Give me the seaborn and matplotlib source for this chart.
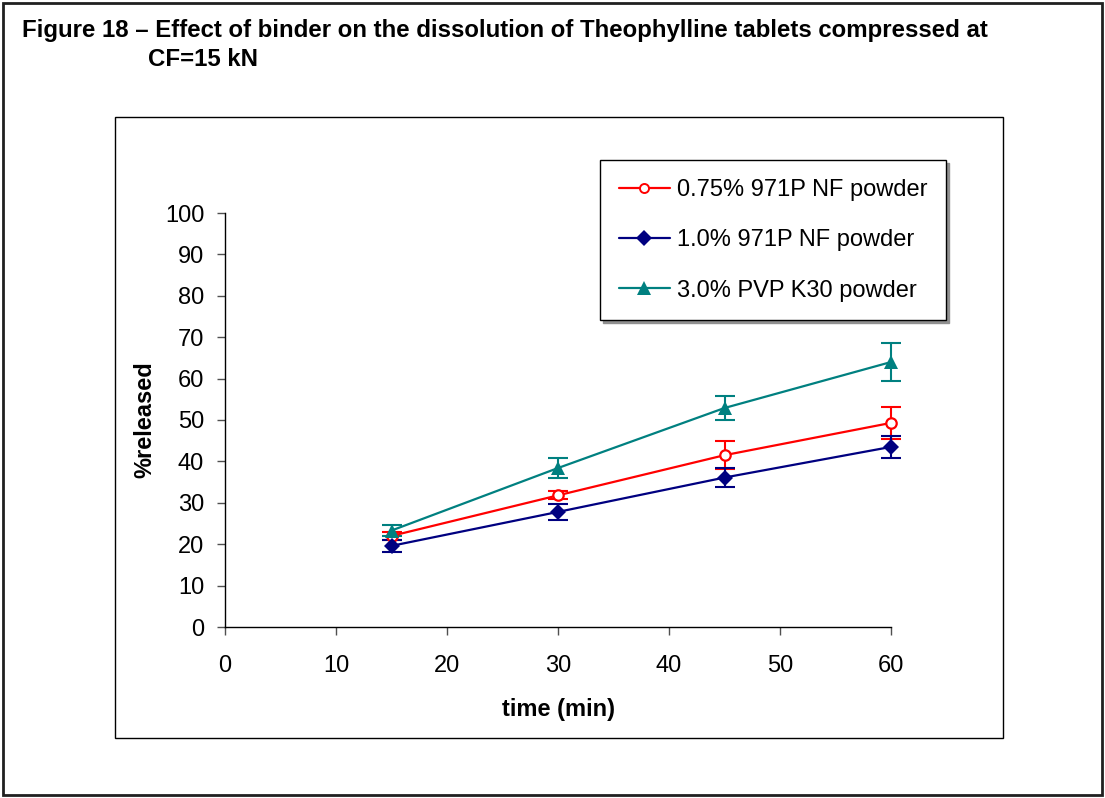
import numpy as np
import pandas as pd
import matplotlib
matplotlib.use("Agg")
import matplotlib.pyplot as plt
from matplotlib.patches import Rectangle
import seaborn as sns

# Dissolution data (time in minutes, % released, standard deviation)
time_min = [15, 30, 45, 60]
series_names = ["0.75% 971P NF powder", "1.0% 971P NF powder", "3.0% PVP K30 powder"]
released_075 = [22.0, 31.8, 41.5, 49.3]
released_100 = [19.6, 27.8, 36.1, 43.5]
released_pvp = [23.3, 38.4, 52.9, 64.0]
sd_075 = [1.0, 1.0, 3.4, 3.9]
sd_100 = [1.5, 2.0, 2.3, 2.7]
sd_pvp = [1.3, 2.4, 2.8, 4.5]

colors = ["#FF0000", "#000080", "#008080"]
markers = ["o", "D", "^"]
marker_sizes = {"o": 7.5, "D": 8.5, "^": 10.5}

rows = []
for name, vals, sds in zip(series_names, [released_075, released_100, released_pvp],
                           [sd_075, sd_100, sd_pvp]):
    for t, v, s in zip(time_min, vals, sds):
        rows.append({"time": t, "released": v, "sd": s, "formulation": name})
df = pd.DataFrame(rows)

sns.set_style("white")
plt.rcParams["font.family"] = ["Liberation Sans", "DejaVu Sans"]
plt.rcParams["text.color"] = "black"
plt.rcParams["axes.labelcolor"] = "black"

FS = 17
W, H = 1105, 798
fig = plt.figure(figsize=(W / 100, H / 100), dpi=100)
ax = fig.add_axes([225 / W, 1 - 627 / H, 666 / W, 414 / H])

# Error bars first so the markers sit on top
for name, col in zip(series_names, colors):
    sub = df[df["formulation"] == name]
    ax.errorbar(sub["time"], sub["released"], yerr=sub["sd"], fmt="none",
                ecolor=col, elinewidth=1.5, capsize=7.5, capthick=1.5, zorder=2,
                clip_on=False)

sns.lineplot(data=df, x="time", y="released", hue="formulation", style="formulation",
             hue_order=series_names, style_order=series_names,
             palette=colors, markers=markers, dashes=False, linewidth=1.6,
             ax=ax, legend=False, zorder=3)

for line in ax.get_lines():
    mk = line.get_marker()
    line.set_clip_on(False)
    if mk in marker_sizes:
        line.set_markersize(marker_sizes[mk])
    if mk == "o":
        line.set_markerfacecolor("white")
        line.set_markeredgecolor(colors[0])
        line.set_markeredgewidth(1.6)
    elif mk in ("D", "^"):
        line.set_markeredgewidth(0)

ax.set_xlim(0, 60)
ax.set_ylim(0, 100)
ax.set_xticks(range(0, 61, 10))
ax.set_yticks(range(0, 101, 10))
ax.tick_params(axis="both", direction="out", length=6, width=1, color="#505050",
               labelcolor="black", labelsize=FS, left=True, bottom=True)
ax.tick_params(axis="x", pad=14)
ax.tick_params(axis="y", pad=9)
for side in ["top", "right"]:
    ax.spines[side].set_visible(False)
for side in ["left", "bottom"]:
    ax.spines[side].set_color("black")
    ax.spines[side].set_linewidth(1)

ax.set_xlabel("time (min)", fontsize=FS, fontweight="bold", labelpad=15)
ax.set_ylabel("%released", fontsize=FS, fontweight="bold", labelpad=6)

# Legend with marker drawn mid-line
handles = []
for name, col, mk in zip(series_names, colors, markers):
    h, = ax.plot([], [], color=col, marker=mk, linewidth=1.6,
                 markersize={"o": 6.5, "D": 8, "^": 9.5}[mk],
                 markerfacecolor="white" if mk == "o" else col,
                 markeredgecolor=col, markeredgewidth=1.4 if mk == "o" else 0)
    handles.append(h)
leg = fig.legend(handles, series_names, loc="upper left",
                 bbox_to_anchor=(600 / W, 1 - 160 / H), bbox_transform=fig.transFigure,
                 frameon=True, fancybox=False, fontsize=FS, handlelength=2.15,
                 handletextpad=0.3, labelspacing=1.2, borderpad=0.8, borderaxespad=0,
                 shadow={"color": "#909090", "alpha": 1.0})
leg.get_frame().set_edgecolor("black")
leg.get_frame().set_linewidth(1)

# Chart area frame and outer page frame
fig.patches.append(Rectangle((115 / W, 1 - 738 / H), (1003 - 115) / W, (738 - 117) / H,
                             transform=fig.transFigure, fill=False, edgecolor="black",
                             linewidth=1, zorder=0))
fig.patches.append(Rectangle((3 / W, 3 / H), (W - 6) / W, (H - 6) / H,
                             transform=fig.transFigure, fill=False, edgecolor="#202020",
                             linewidth=2, zorder=0))

fig.text(22 / W, 1 - 30 / H,
         "Figure 18 \u2013 Effect of binder on the dissolution of Theophylline tablets compressed at",
         fontsize=17.3, fontweight="bold", va="center", ha="left")
fig.text(148 / W, 1 - 59 / H, "CF=15 kN", fontsize=17.3, fontweight="bold",
         va="center", ha="left")

fig.savefig("out.png", dpi=100)
